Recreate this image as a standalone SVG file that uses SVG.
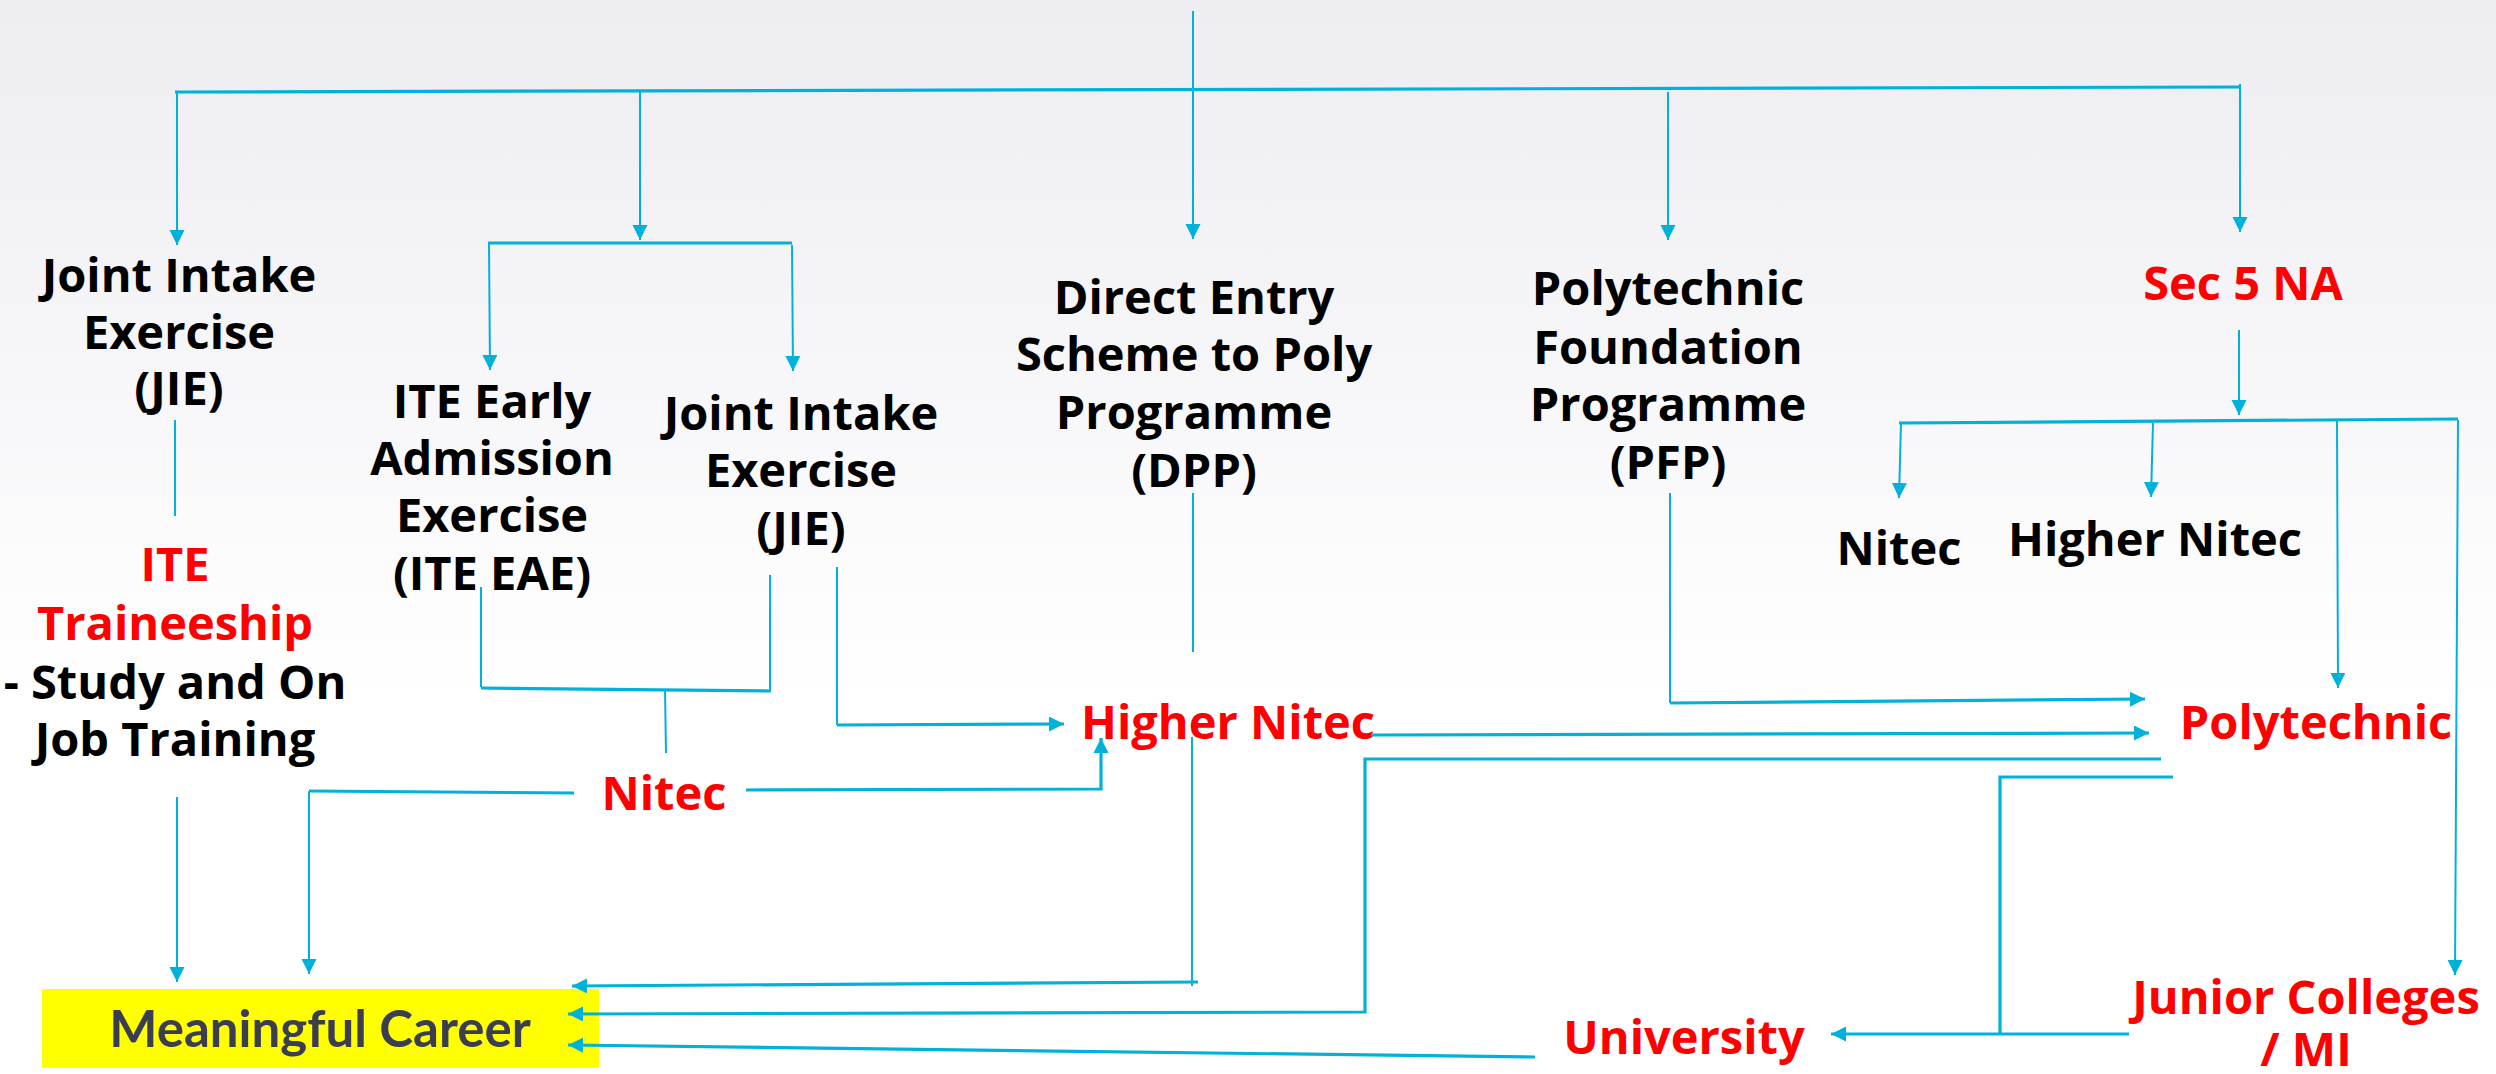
<svg xmlns="http://www.w3.org/2000/svg" width="2496" height="1074" viewBox="0 0 2496 1074">
<defs>
<linearGradient id="bg" x1="0" y1="0" x2="0" y2="1074" gradientUnits="userSpaceOnUse">
<stop offset="0" stop-color="#ededf2"/>
<stop offset="0.65" stop-color="#ffffff"/>
<stop offset="1" stop-color="#ffffff"/>
</linearGradient>
<marker id="arr" markerUnits="userSpaceOnUse" markerWidth="16" markerHeight="16" refX="15" refY="7.5" orient="auto">
<path d="M0,0 L15,7.5 L0,15 z" fill="#00b2d9"/>
</marker>
<style>
.t{font-family:"Open Sans","Liberation Sans",sans-serif;font-weight:700;font-size:47px;text-anchor:middle;}
.k{fill:#000000;}
.r{fill:#ff0000;}
.mc{font-family:Lato,"Open Sans",sans-serif;font-weight:700;font-size:51px;fill:#3b3e4e;text-anchor:middle;}
.c{fill:none;stroke:#00b2d9;stroke-width:2;}
.c3{fill:none;stroke:#00b2d9;stroke-width:3.2;}
.a{marker-end:url(#arr);}
</style>
</defs>
<rect x="0" y="0" width="2496" height="1074" fill="url(#bg)"/>

<g id="jie-left">
<text class="t k"><tspan x="179" y="292">Joint Intake</tspan><tspan x="179" y="349">Exercise</tspan><tspan x="179" y="405">(JIE)</tspan></text>
</g>
<g id="ite-traineeship">
<text class="t"><tspan class="r" x="175" y="581">ITE</tspan><tspan class="r" x="175" y="640">Traineeship</tspan><tspan class="k" x="175" y="699">- Study and On</tspan><tspan class="k" x="175" y="756">Job Training</tspan></text>
</g>
<g id="ite-eae">
<text class="t k"><tspan x="492" y="418">ITE Early</tspan><tspan x="492" y="475">Admission</tspan><tspan x="492" y="532">Exercise</tspan><tspan x="492" y="590">(ITE EAE)</tspan></text>
</g>
<g id="jie-right">
<text class="t k"><tspan x="801" y="430">Joint Intake</tspan><tspan x="801" y="487">Exercise</tspan><tspan x="801" y="545">(JIE)</tspan></text>
</g>
<g id="dpp">
<text class="t k"><tspan x="1194" y="314">Direct Entry</tspan><tspan x="1194" y="371">Scheme to Poly</tspan><tspan x="1194" y="429">Programme</tspan><tspan x="1194" y="487">(DPP)</tspan></text>
</g>
<g id="pfp">
<text class="t k"><tspan x="1668" y="305">Polytechnic</tspan><tspan x="1668" y="364">Foundation</tspan><tspan x="1668" y="421">Programme</tspan><tspan x="1668" y="479">(PFP)</tspan></text>
</g>
<g id="sec5na">
<text class="t r" x="2243" y="300">Sec 5 NA</text>
</g>
<g id="nitec-sec5">
<text class="t k" x="1899" y="565">Nitec</text>
</g>
<g id="higher-nitec-sec5">
<text class="t k" x="2155" y="556">Higher Nitec</text>
</g>
<g id="nitec">
<text class="t r" x="664" y="810">Nitec</text>
</g>
<g id="higher-nitec">
<text class="t r" x="1228" y="739">Higher Nitec</text>
</g>
<g id="polytechnic">
<text class="t r" x="2316" y="739">Polytechnic</text>
</g>
<g id="junior-colleges">
<text class="t r"><tspan x="2306" y="1014">Junior Colleges</tspan><tspan x="2306" y="1066">/ MI</tspan></text>
</g>
<g id="university">
<text class="t r" x="1684" y="1054">University</text>
</g>
<g id="meaningful-career">
<rect x="42" y="989" width="557" height="79" fill="#ffff00"/>
<text class="mc" x="320" y="1047">Meaningful Career</text>
</g>

<g id="connectors">
<polyline class="c a" points="1193,11 1193,239"/>
<polyline class="c3" points="175,92 2240,87"/>
<polyline class="c" points="2240,84 2240,88"/>
<polyline class="c a" points="177,93 177,245"/>
<polyline class="c a" points="640,92 640,240"/>
<polyline class="c3" points="488,243 792,243"/>
<polyline class="c a" points="489,243 490,370"/>
<polyline class="c a" points="792,245 793,371"/>
<polyline class="c a" points="1668,92 1668,240"/>
<polyline class="c a" points="2240,87 2240,232"/>
<polyline class="c" points="175,420 175,516"/>
<polyline class="c a" points="177,797 177,982"/>
<polyline class="c" points="481,587 481,687"/>
<polyline class="c3" points="481,688 771,691"/>
<polyline class="c" points="770,575 770,691"/>
<polyline class="c" points="665,690 666,753"/>
<polyline class="c" points="837,567 837,725"/>
<polyline class="c3 a" points="837,725 1064,724"/>
<polyline class="c3" points="574,793 309,791"/>
<polyline class="c a" points="309,791 309,974"/>
<polyline class="c3 a" points="746,790 1101,789 1101,738"/>
<polyline class="c" points="1193,493 1193,652"/>
<polyline class="c" points="1192,737 1192,986"/>
<polyline class="c3 a" points="1198,982 572,986"/>
<polyline class="c3 a" points="1371,735 2149,733"/>
<polyline class="c" points="1670,493 1670,703"/>
<polyline class="c3 a" points="1670,703 2145,699"/>
<polyline class="c3 a" points="2161,759 1365,759 1365,1012 568,1014"/>
<polyline class="c3" points="2173,777 2000,777 2000,1034"/>
<polyline class="c3 a" points="2129,1034 1831,1034"/>
<polyline class="c3 a" points="1535,1057 568,1045"/>
<polyline class="c a" points="2239,330 2239,415"/>
<polyline class="c3" points="1899,423 2458,419"/>
<polyline class="c a" points="1901,423 1899,498"/>
<polyline class="c a" points="2153,423 2151,497"/>
<polyline class="c a" points="2337,421 2338,688"/>
<polyline class="c a" points="2458,420 2455,975"/>
</g>
</svg>
